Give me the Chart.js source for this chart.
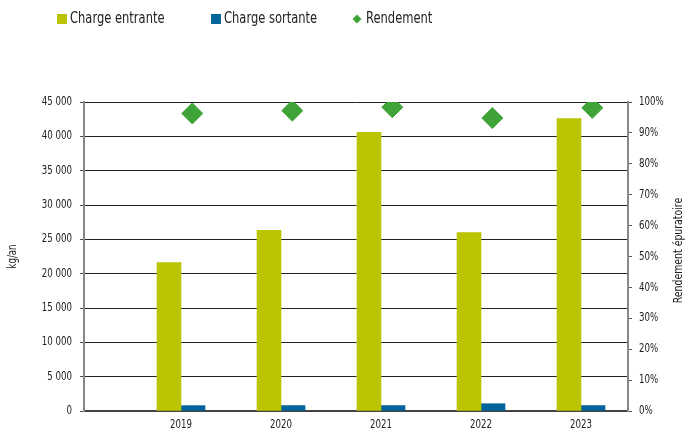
<!DOCTYPE html>
<html><head><meta charset="utf-8">
<script src="https://cdn.jsdelivr.net/npm/chart.js@4.4.1/dist/chart.umd.min.js"></script>
<style>html,body{margin:0;padding:0;background:#fff}</style>
</head><body>
<canvas id="c" width="686" height="434"></canvas>
<script>
const categories = ['2019', '2020', '2021', '2022', '2023'];
const chargeEntrante = [21600, 26300, 40600, 26000, 42600];
const chargeSortante = [780, 790, 790, 1060, 790];
const rendement = [96.3, 97.2, 98.3, 94.8, 98.1];
const seriesNames = ['Charge entrante', 'Charge sortante', 'Rendement'];
const axisTitles = ['kg/an', 'Rendement épuratoire'];

const FONT = "'DejaVu Sans Condensed', 'Liberation Sans Narrow', sans-serif";
const TEXT_SCALE_X = 0.8;
const COLORS = { entrante: '#BBC400', sortante: '#00639A', rendement: '#3FA337', text: '#222222' };

const years = categories.map(Number);
// horizontal layout of the year axis (in years) and per-series offsets (in years)
const X_MIN = 2018.03, X_MAX = 2023.47;
const SHIFT = { entrante: -0.12, sortante: 0.12, rendement: 0.113 };

Chart.defaults.font.family = FONT;
Chart.defaults.font.size = 12;
Chart.defaults.color = COLORS.text;

const fmt = v => String(v).replace(/\B(?=(\d{3})+(?!\d))/g, ' ');
const hiddenX = s => ({ type: 'linear', min: X_MIN - s, max: X_MAX - s, display: false, offset: false });

// condense all canvas text horizontally (narrow font look)
const condensedText = {
  id: 'condensedText',
  beforeInit(chart) {
    const ctx = chart.ctx;
    const orig = ctx.fillText.bind(ctx);
    ctx.fillText = function (t, x, y, mw) {
      ctx.save();
      ctx.translate(x, y);
      ctx.scale(TEXT_SCALE_X, 1);
      if (mw !== undefined) orig(t, 0, 0, mw / TEXT_SCALE_X); else orig(t, 0, 0);
      ctx.restore();
    };
  }
};

const customDecor = {
  id: 'customDecor',
  afterDraw(chart) {
    const ctx = chart.ctx;
    const ca = chart.chartArea;
    ctx.save();
    ctx.fillStyle = COLORS.text;
    ctx.textAlign = 'center';
    ctx.textBaseline = 'middle';
    const cy = (ca.top + ca.bottom) / 2;
    ctx.font = '12px ' + FONT;
    ctx.save(); ctx.translate(13, cy); ctx.rotate(-Math.PI / 2); ctx.fillText(axisTitles[0], 0, 0); ctx.restore();
    ctx.font = '13px ' + FONT;
    ctx.save(); ctx.translate(679, cy - 6); ctx.rotate(-Math.PI / 2); ctx.fillText(axisTitles[1], 0, 0); ctx.restore();
    // legend
    ctx.font = '16px ' + FONT;
    ctx.textAlign = 'left';
    const ly = 19;
    ctx.fillStyle = COLORS.entrante; ctx.fillRect(57, ly - 5, 10, 10);
    ctx.fillStyle = COLORS.text; ctx.fillText(seriesNames[0], 70, ly);
    ctx.fillStyle = COLORS.sortante; ctx.fillRect(211, ly - 5, 10, 10);
    ctx.fillStyle = COLORS.text; ctx.fillText(seriesNames[1], 224, ly);
    ctx.fillStyle = COLORS.rendement;
    ctx.beginPath(); ctx.moveTo(357, ly - 4.5); ctx.lineTo(361.5, ly); ctx.lineTo(357, ly + 4.5); ctx.lineTo(352.5, ly); ctx.closePath(); ctx.fill();
    ctx.fillStyle = COLORS.text; ctx.fillText(seriesNames[2], 366, ly);
    ctx.restore();
  }
};

new Chart(document.getElementById('c'), {
  type: 'bar',
  data: {
    datasets: [
      { label: seriesNames[0], data: years.map((x, i) => ({ x, y: chargeEntrante[i] })), backgroundColor: COLORS.entrante, barThickness: 24, grouped: false, xAxisID: 'xe', yAxisID: 'y', order: 1 },
      { label: seriesNames[1], data: years.map((x, i) => ({ x, y: chargeSortante[i] })), backgroundColor: COLORS.sortante, barThickness: 24, grouped: false, xAxisID: 'xs', yAxisID: 'y', order: 2 },
      { type: 'scatter', label: seriesNames[2], data: years.map((x, i) => ({ x, y: rendement[i] })), backgroundColor: COLORS.rendement, borderColor: COLORS.rendement, borderWidth: 1, pointStyle: 'rectRot', pointRadius: 10.5, showLine: false, xAxisID: 'xd', yAxisID: 'y2', order: 0 }
    ]
  },
  options: {
    responsive: false,
    animation: false,
    devicePixelRatio: 1,
    layout: { padding: { top: 102, left: 0, right: 0, bottom: 0 } },
    plugins: { legend: { display: false }, tooltip: { enabled: false } },
    scales: {
      x: {
        type: 'linear', min: X_MIN, max: X_MAX, position: 'bottom', offset: false,
        afterBuildTicks: s => { s.ticks = years.map(v => ({ value: v })); },
        afterFit: s => { s.height = 23; },
        ticks: { callback: v => categories[years.indexOf(v)], padding: 7, maxRotation: 0, autoSkip: false, font: { size: 12 }, color: COLORS.text },
        grid: { display: false, drawTicks: false, offset: false },
        border: { display: true, color: '#444', width: 2 }
      },
      xe: hiddenX(SHIFT.entrante),
      xs: hiddenX(SHIFT.sortante),
      xd: hiddenX(SHIFT.rendement),
      y: {
        type: 'linear', position: 'left', min: 0, max: 45000,
        afterFit: s => { s.width = 84; },
        ticks: { stepSize: 5000, callback: v => fmt(v), padding: 8, color: COLORS.text },
        grid: { color: '#222', lineWidth: 1, tickLength: 4, tickColor: '#555' },
        border: { display: true, color: '#888', width: 2 }
      },
      y2: {
        type: 'linear', position: 'right', min: 0, max: 100,
        afterFit: s => { s.width = 58; },
        ticks: { stepSize: 10, callback: v => v + '%', padding: 7, color: COLORS.text },
        grid: { drawOnChartArea: false, tickLength: 4, tickColor: '#555' },
        border: { display: true, color: '#888', width: 2 }
      }
    }
  },
  plugins: [condensedText, customDecor]
});
</script>
</body></html>
